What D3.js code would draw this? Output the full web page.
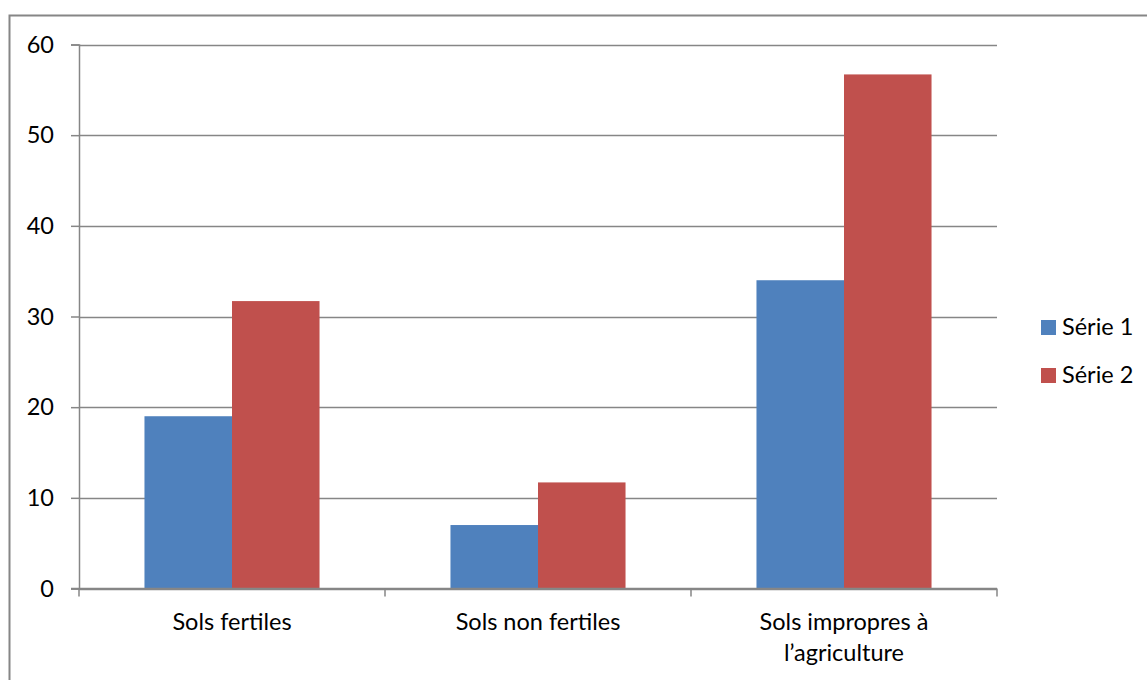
<!DOCTYPE html>
<html>
<head>
<meta charset="utf-8">
<script src="https://cdn.jsdelivr.net/npm/d3@7"></script>
<style>
  html, body { margin: 0; padding: 0; background: #fff; }
  svg { display: block; }
  text { font-family: Lato, "Open Sans", sans-serif; fill: #000; }
</style>
</head>
<body>
<svg id="chart" width="1147" height="680"></svg>
<script>
// Soil categories and the two series
const categories = [["Sols fertiles"], ["Sols non fertiles"], ["Sols impropres à", "l’agriculture"]];
const seriesNames = ["Série 1", "Série 2"];
const serie1 = [19, 7, 34];
const serie2 = [31.7, 11.7, 56.7];
const yTicks = [0, 10, 20, 30, 40, 50, 60];
const colors = ["#4F81BD", "#C0504D"];

const FONT = 23.5;
const svg = d3.select("#chart");
const plot = { left: 79, right: 997, top: 44.5, bottom: 588.5 };

// outer frame (extends past the bottom and right edges)
svg.append("rect")
  .attr("x", 9.5).attr("y", 15.5)
  .attr("width", 1300).attr("height", 800)
  .attr("fill", "none").attr("stroke", "#868686").attr("stroke-width", 2);

const x0 = d3.scaleBand()
  .domain(d3.range(categories.length))
  .range([plot.left, plot.right])
  .paddingInner(0).paddingOuter(0);

const x1 = d3.scaleBand()
  .domain(d3.range(seriesNames.length))
  .range([0, x0.bandwidth()])
  .paddingOuter(0.748).paddingInner(0);

const y = d3.scaleLinear().domain([0, 60]).range([plot.bottom, plot.top]);

// horizontal gridlines
svg.append("g").selectAll("line").data(yTicks).join("line")
  .attr("x1", plot.left).attr("x2", plot.right)
  .attr("y1", d => Math.round(y(d)) + 0.5).attr("y2", d => Math.round(y(d)) + 0.5)
  .attr("stroke", "#868686").attr("stroke-width", 1.5);

// bars
const rows = categories.map((c, i) => [serie1[i], serie2[i]]);
const groups = svg.append("g").selectAll("g").data(rows).join("g")
  .attr("transform", (d, i) => `translate(${x0(i)},0)`);
groups.selectAll("rect").data(d => d).join("rect")
  .attr("x", (d, j) => x1(j))
  .attr("width", x1.bandwidth())
  .attr("y", d => y(d))
  .attr("height", d => y(0) - y(d))
  .attr("fill", (d, j) => colors[j]);

// y axis
const yAxis = d3.axisLeft(y).tickValues(yTicks).tickSize(8).tickPadding(17).tickFormat(d3.format("d"));
const gy = svg.append("g").attr("transform", `translate(${plot.left},0)`).call(yAxis);
gy.attr("font-size", FONT).attr("font-family", "Lato, sans-serif");
gy.select(".domain").attr("stroke", "#868686").attr("stroke-width", 1.5);
gy.selectAll(".tick line").attr("stroke", "#868686").attr("stroke-width", 1.5);
gy.selectAll("text").attr("fill", "#000");

// x axis line with category separators
const gx = svg.append("g");
gx.append("line")
  .attr("x1", plot.left - 8).attr("x2", plot.right)
  .attr("y1", y(0)).attr("y2", y(0))
  .attr("stroke", "#868686").attr("stroke-width", 1.5);
const bounds = d3.range(categories.length + 1).map(i => i < categories.length ? x0(i) : x0(i - 1) + x0.bandwidth());
gx.selectAll("line.sep").data(bounds).join("line").attr("class", "sep")
  .attr("x1", d => d).attr("x2", d => d)
  .attr("y1", y(0)).attr("y2", y(0) + 8)
  .attr("stroke", "#868686").attr("stroke-width", 1.5);

// category labels
const lbl = svg.append("g").selectAll("text").data(categories).join("text")
  .attr("text-anchor", "middle")
  .attr("font-size", FONT)
  .attr("x", (d, i) => x0(i) + x0.bandwidth() / 2)
  .attr("y", 630);
lbl.selectAll("tspan").data(d => d).join("tspan")
  .attr("x", function () { return this.parentNode.getAttribute("x"); })
  .attr("dy", (d, k) => k === 0 ? 0 : 31)
  .text(d => d);

// legend
const leg = svg.append("g").selectAll("g").data(seriesNames).join("g")
  .attr("transform", (d, i) => `translate(1041,${320 + i * 48})`);
leg.append("rect").attr("width", 15).attr("height", 15).attr("fill", (d, i) => colors[i]);
leg.append("text").attr("x", 21).attr("y", 15).attr("font-size", FONT).text(d => d);
</script>
</body>
</html>
